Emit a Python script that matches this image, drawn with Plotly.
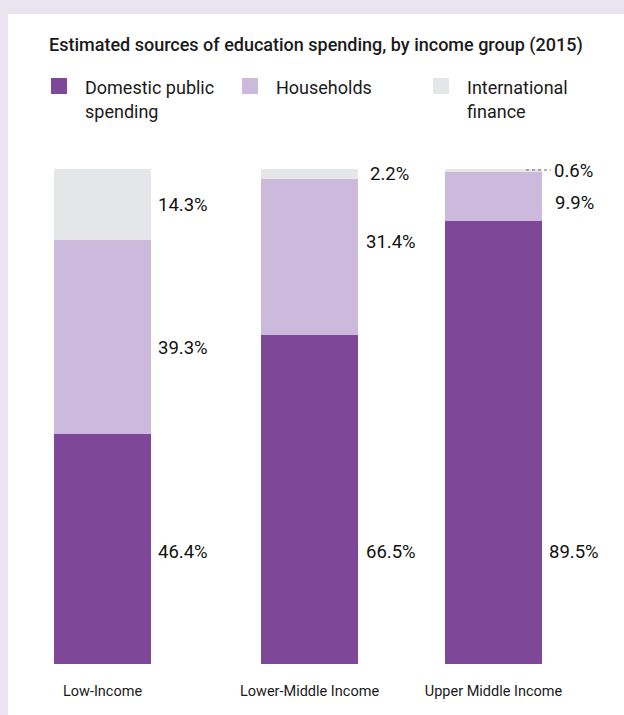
import plotly.graph_objects as go

# ---- data ----
categories = ["Low-Income", "Lower-Middle Income", "Upper Middle Income"]
series_names = ["Domestic public spending", "Households", "International finance"]
domestic = [46.4, 66.5, 89.5]
households = [39.3, 31.4, 9.9]
international = [14.3, 2.2, 0.6]
title_text = "Estimated sources of education spending, by income group (2015)"
legend_lines = [["Domestic public", "spending"], ["Households"], ["International", "finance"]]

# ---- layout / style ----
colors = ["#7E4798", "#CCBADC", "#E5E6E8"]
bar_x = [0.0, 1.0, 1.889]          # uneven category spacing as in original
bar_w = 0.469
FONT = "Roboto"
TXT = "#1a1a1a"
BG = "#EAE4F0"

# label placement (y in data units, x shift in px)
label_y = [[22.6, 63.8, 92.7], [22.6, 85.3, 99.0], [22.6, 93.1, 99.6]]
label_dx = [[5, 5, 5], [6, 6, 10], [5, 11, 10]]

W, H = 624, 715
top_px, bot_px = 169, 664
plot_h = bot_px - top_px

def py(p):
    return (bot_px - p) / plot_h

def px(p):
    return p / W

fig = go.Figure()
for name, vals, col in zip(series_names, [domestic, households, international], colors):
    fig.add_trace(go.Bar(x=bar_x, y=vals, name=name, marker=dict(color=col, line=dict(width=0)),
                         width=bar_w, showlegend=False, hoverinfo="x+y+name"))

annotations = []
shapes = []

# white panel
shapes.append(dict(type="rect", xref="paper", yref="paper", x0=px(8), x1=1.05, y0=py(H + 10), y1=py(14),
                   fillcolor="white", line=dict(width=0), layer="below"))

# title
annotations.append(dict(text=title_text, xref="paper", yref="paper", x=px(47), y=py(45),
                        xanchor="left", yanchor="middle", showarrow=False,
                        font=dict(family=FONT, size=18, color=TXT, weight=500)))

# legend
leg_sq_x = [51, 242, 433]
leg_txt_x = [83, 274, 465]
for i in range(3):
    shapes.append(dict(type="rect", xref="paper", yref="paper",
                       x0=px(leg_sq_x[i]), x1=px(leg_sq_x[i] + 16), y0=py(94), y1=py(78),
                       fillcolor=colors[i], line=dict(width=0)))
    for j, line in enumerate(legend_lines[i]):
        annotations.append(dict(text=line, xref="paper", yref="paper", x=px(leg_txt_x[i]), y=py(87 + 25 * j),
                                xanchor="left", yanchor="middle", showarrow=False,
                                font=dict(family=FONT, size=18, color=TXT)))

# value labels
series_vals = [domestic, households, international]
for i in range(3):
    for s in range(3):
        annotations.append(dict(text=f"{series_vals[s][i]:.1f}%", xref="x", yref="y",
                                x=bar_x[i] + bar_w / 2, y=label_y[i][s], xshift=label_dx[i][s],
                                xanchor="left", yanchor="middle", showarrow=False,
                                font=dict(family=FONT, size=18.5, color="#111111")))

# dotted leader for the tiny top segment of the last bar
top3 = domestic[2] + households[2] + international[2]
shapes.append(dict(type="line", xref="x", yref="y", x0=bar_x[2] + 0.157, x1=bar_x[2] + 0.278,
                   y0=top3 - 0.2, y1=top3 - 0.2, line=dict(color="#666666", width=1, dash="dot")))

x0 = -102.5 / 207
fig.update_layout(
    width=W, height=H,
    barmode="stack",
    paper_bgcolor=BG, plot_bgcolor="rgba(0,0,0,0)",
    margin=dict(l=0, r=0, t=top_px, b=H - bot_px, pad=0),
    xaxis=dict(range=[x0, x0 + W / 207], tickvals=bar_x, ticktext=categories, showgrid=False,
               zeroline=False, showline=False, ticks="", fixedrange=True,
               tickfont=dict(family=FONT, size=14.5, color=TXT), ticklabelstandoff=16),
    yaxis=dict(range=[0, 100], visible=False, fixedrange=True),
    annotations=annotations,
    shapes=shapes,
    font=dict(family=FONT),
)

fig.write_html("out.html")
